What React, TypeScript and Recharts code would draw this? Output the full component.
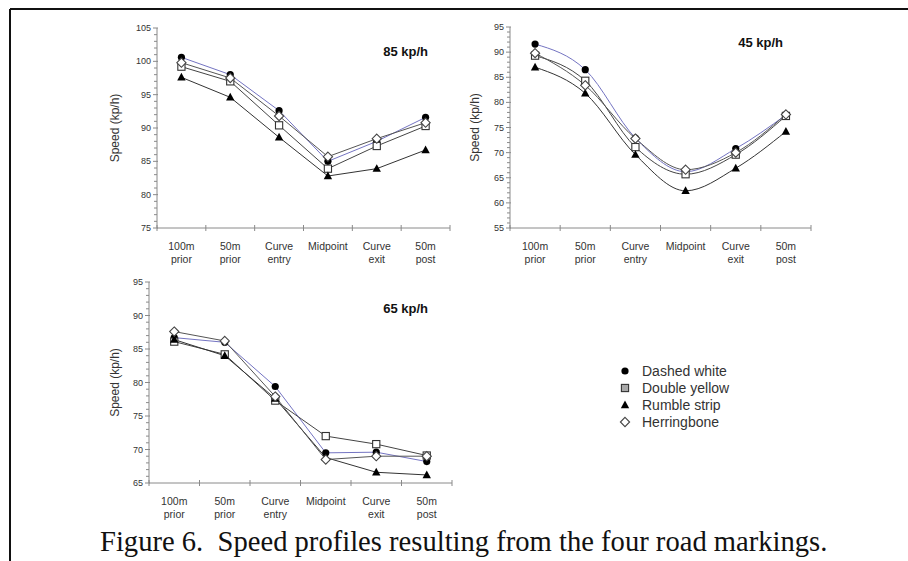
import React from 'react';
import { LineChart, Line, XAxis, YAxis, Legend } from 'recharts';

const categories = ['100m prior', '50m prior', 'Curve entry', 'Midpoint', 'Curve exit', '50m post'];
const seriesNames = ['Dashed white', 'Double yellow', 'Rumble strip', 'Herringbone'];

// 85 kp/h
const dashedWhite85 = [100.6, 98.0, 92.6, 85.0, 88.0, 91.6];
const doubleYellow85 = [99.2, 97.0, 90.4, 83.9, 87.3, 90.3];
const rumble85 = [97.6, 94.6, 88.6, 82.8, 83.9, 86.7];
const herring85 = [99.8, 97.5, 91.8, 85.7, 88.4, 90.8];

// 45 kp/h
const dashedWhite45 = [91.6, 86.5, 72.9, 66.2, 70.8, 77.5];
const doubleYellow45 = [89.3, 84.3, 71.1, 65.7, 69.6, 77.3];
const rumble45 = [87.0, 81.8, 69.6, 62.4, 66.9, 74.2];
const herring45 = [89.8, 83.4, 72.8, 66.6, 70.0, 77.6];

// 65 kp/h
const dashedWhite65 = [86.7, 86.0, 79.4, 69.5, 69.6, 68.2];
const doubleYellow65 = [86.1, 84.2, 77.3, 72.0, 70.8, 69.1];
const rumble65 = [86.4, 84.0, 77.6, 68.8, 66.6, 66.2];
const herring65 = [87.6, 86.2, 77.9, 68.5, 69.0, 69.0];

const yTicks85 = [75, 76, 77, 78, 79, 80, 81, 82, 83, 84, 85, 86, 87, 88, 89, 90, 91, 92, 93, 94, 95, 96, 97, 98, 99, 100, 101, 102, 103, 104, 105];
const yTicks45 = [55, 56, 57, 58, 59, 60, 61, 62, 63, 64, 65, 66, 67, 68, 69, 70, 71, 72, 73, 74, 75, 76, 77, 78, 79, 80, 81, 82, 83, 84, 85, 86, 87, 88, 89, 90, 91, 92, 93, 94, 95];
const yTicks65 = [65, 66, 67, 68, 69, 70, 71, 72, 73, 74, 75, 76, 77, 78, 79, 80, 81, 82, 83, 84, 85, 86, 87, 88, 89, 90, 91, 92, 93, 94, 95];

const buildData = (a: number[], b: number[], c: number[], d: number[]) =>
  categories.map((cat, i) => ({ cat, dw: a[i], dy: b[i], rs: c[i], hb: d[i] }));

const data85 = buildData(dashedWhite85, doubleYellow85, rumble85, herring85);
const data45 = buildData(dashedWhite45, doubleYellow45, rumble45, herring45);
const data65 = buildData(dashedWhite65, doubleYellow65, rumble65, herring65);

const FONT = '"Liberation Sans", Arial, sans-serif';
const AXIS = '#8a8a8a';
const BORDER = '#c4c4c4';
const TEXT = '#333';

type Shape = 'circle' | 'square' | 'triangle' | 'diamond';

const Marker = ({ cx, cy, shape, legend }: { cx: number; cy: number; shape: Shape; legend?: boolean }) => {
  if (shape === 'circle') return <circle cx={cx} cy={cy} r={3.6} fill="#000" />;
  if (shape === 'square')
    return (
      <rect x={cx - 3.6} y={cy - 3.6} width={7.2} height={7.2} fill={legend ? '#a8a8a8' : '#fff'} stroke="#333" strokeWidth={1.1} />
    );
  if (shape === 'triangle')
    return <polygon points={`${cx},${cy - 4.5} ${cx + 4.2},${cy + 3.2} ${cx - 4.2},${cy + 3.2}`} fill="#000" />;
  return (
    <polygon
      points={`${cx},${cy - 4.6} ${cx + 4.6},${cy} ${cx},${cy + 4.6} ${cx - 4.6},${cy}`}
      fill="#fff"
      stroke="#444"
      strokeWidth={1.1}
    />
  );
};

const seriesDefs: { key: string; name: string; shape: Shape; color: string }[] = [
  { key: 'dw', name: seriesNames[0], shape: 'circle', color: '#7474c2' },
  { key: 'dy', name: seriesNames[1], shape: 'square', color: '#444' },
  { key: 'rs', name: seriesNames[2], shape: 'triangle', color: '#333' },
  { key: 'hb', name: seriesNames[3], shape: 'diamond', color: '#555' },
];

const makeDot = (shape: Shape, key: string) => (props: any) => {
  const { cx, cy, index } = props;
  if (cx == null || cy == null) return <g key={`${key}-${index}`} />;
  return (
    <g key={`${key}-${index}`}>
      <Marker cx={cx} cy={cy} shape={shape} />
    </g>
  );
};

const makeXTick = (half: number) => (props: any) => {
  const { x, y, payload } = props;
  const lines = String(payload.value).split(' ');
  const last = payload.value === categories[categories.length - 1];
  return (
    <g>
      <line x1={x - half} x2={x - half} y1={y - 3} y2={y + 3} stroke={AXIS} />
      {last && <line x1={x + half} x2={x + half} y1={y - 3} y2={y + 3} stroke={AXIS} />}
      <text x={x} y={y + 22} textAnchor="middle" fontSize={10.5} fill={TEXT} fontFamily={FONT}>
        {lines.map((l, i) => (
          <tspan key={i} x={x} dy={i === 0 ? 0 : 13}>
            {l}
          </tspan>
        ))}
      </text>
    </g>
  );
};

const YTick = (props: any) => {
  const { x, y, payload } = props;
  const major = payload.value % 5 === 0;
  return (
    <g>
      <line x1={major ? x - 4 : x - 3} x2={major ? x + 1 : x} y1={y} y2={y} stroke={AXIS} />
      {major && (
        <text x={x - 6} y={y + 3} textAnchor="end" fontSize={9} fill={TEXT} fontFamily={FONT}>
          {payload.value}
        </text>
      )}
    </g>
  );
};

const LegendContent = () => (
  <svg width={190} height={74} style={{ display: 'block' }}>
    {seriesDefs.map((s, i) => (
      <g key={s.key}>
        <Marker cx={13} cy={9 + i * 17} shape={s.shape} legend />
        <text x={30} y={9 + i * 17 + 5} fontSize={14} fill={TEXT} fontFamily={FONT}>
          {s.name}
        </text>
      </g>
    ))}
  </svg>
);

type ChartProps = {
  data: any[];
  left: number;
  top: number;
  width: number;
  height: number;
  yWidth: number;
  margin: { top: number; right: number; bottom: number; left: number };
  domain: [number, number];
  ticks: number[];
  plotWidth: number;
  labelOffset: number;
  curve: 'linear' | 'monotone';
  legend?: boolean;
};

const SpeedChart = (p: ChartProps) => (
  <div style={{ position: 'absolute', left: p.left, top: p.top }}>
    <LineChart width={p.width} height={p.height} data={p.data} margin={p.margin} style={{ fontFamily: FONT }}>
      <XAxis
        dataKey="cat"
        interval={0}
        height={45}
        padding={{ left: p.plotWidth / 12, right: p.plotWidth / 12 }}
        tickSize={0}
        tickMargin={0}
        tickLine={false}
        axisLine={{ stroke: AXIS }}
        tick={makeXTick(p.plotWidth / 12)}
      />
      <XAxis xAxisId="top" dataKey="cat" orientation="top" height={0} tick={false} tickLine={false} axisLine={{ stroke: BORDER }} />
      <YAxis
        type="number"
        domain={p.domain}
        ticks={p.ticks}
        interval={0}
        width={p.yWidth}
        tickSize={0}
        tickMargin={0}
        tickLine={false}
        axisLine={{ stroke: AXIS }}
        tick={YTick}
        label={{
          value: 'Speed (kp/h)',
          angle: -90,
          position: 'insideLeft',
          offset: p.labelOffset,
          style: { textAnchor: 'middle', fontSize: 12, fill: TEXT, fontFamily: FONT },
        }}
      />
      <YAxis
        yAxisId="r"
        orientation="right"
        type="number"
        domain={p.domain}
        width={0}
        tick={false}
        tickLine={false}
        axisLine={{ stroke: BORDER }}
      />
      {p.legend && (
        <Legend
          layout="vertical"
          align="center"
          verticalAlign="middle"
          content={LegendContent}
          wrapperStyle={{ position: 'absolute', left: 517, top: 92, width: 190, height: 74 }}
        />
      )}
      {seriesDefs.map((s) => (
        <Line
          key={s.key}
          type={p.curve}
          dataKey={s.key}
          name={s.name}
          stroke={s.color}
          strokeWidth={1}
          dot={makeDot(s.shape, s.key)}
          activeDot={false}
          isAnimationActive={false}
          legendType="none"
        />
      ))}
    </LineChart>
  </div>
);

export default function App() {
  return (
    <div style={{ position: 'absolute', left: 0, top: 0, width: 908, height: 561, background: '#fff', overflow: 'hidden' }}>
      <SpeedChart
        data={data85}
        left={100}
        top={15}
        width={360}
        height={270}
        yWidth={57}
        margin={{ top: 13, right: 10, bottom: 12, left: 0 }}
        domain={[75, 105]}
        ticks={yTicks85}
        plotWidth={293}
        labelOffset={15}
        curve="linear"
      />
      <SpeedChart
        data={data45}
        left={460}
        top={15}
        width={360}
        height={270}
        yWidth={50}
        margin={{ top: 12, right: 9, bottom: 12, left: 0 }}
        domain={[55, 95]}
        ticks={yTicks45}
        plotWidth={301}
        labelOffset={15}
        curve="monotone"
      />
      <SpeedChart
        data={data65}
        left={95}
        top={270}
        width={700}
        height={265}
        yWidth={54}
        margin={{ top: 12, right: 343, bottom: 7, left: 0 }}
        domain={[65, 95]}
        ticks={yTicks65}
        plotWidth={303}
        labelOffset={20}
        curve="linear"
        legend
      />
      <svg width={908} height={561} style={{ position: 'absolute', left: 0, top: 0, pointerEvents: 'none' }}>
        <line x1={10} y1={9} x2={908} y2={9} stroke="#111" strokeWidth={2} />
        <line x1={10} y1={9} x2={10} y2={561} stroke="#111" strokeWidth={2} />
        <text x={428} y={56} textAnchor="end" fontSize={13} fontWeight="bold" fill="#111" fontFamily={FONT}>
          85 kp/h
        </text>
        <text x={783} y={47} textAnchor="end" fontSize={13} fontWeight="bold" fill="#111" fontFamily={FONT}>
          45 kp/h
        </text>
        <text x={428} y={313} textAnchor="end" fontSize={13} fontWeight="bold" fill="#111" fontFamily={FONT}>
          65 kp/h
        </text>
        <text x={100} y={551} fontSize={28.6} fill="#111" fontFamily='"Liberation Serif", "Times New Roman", serif' style={{ whiteSpace: 'pre' }}>
          {'Figure 6.  Speed profiles resulting from the four road markings.'}
        </text>
      </svg>
    </div>
  );
}
